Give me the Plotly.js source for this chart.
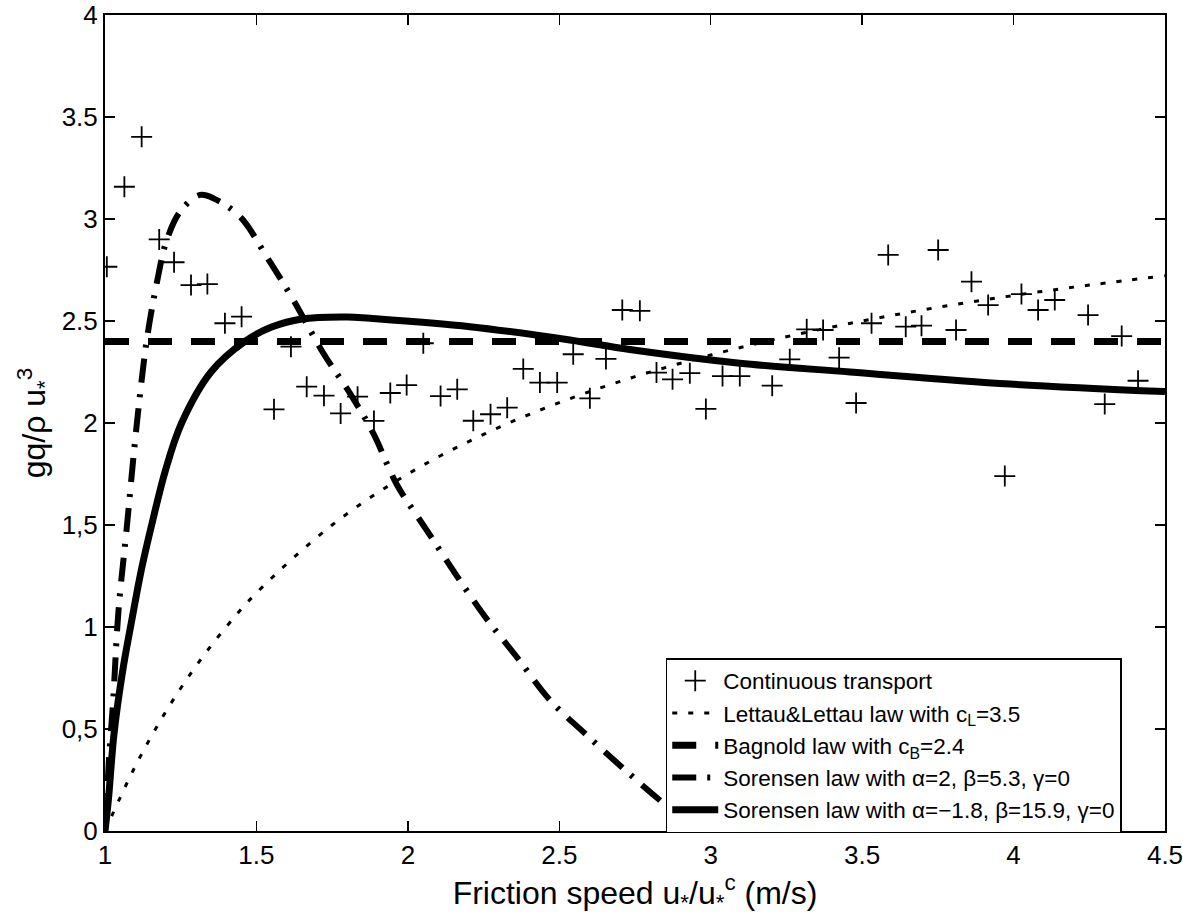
<!DOCTYPE html>
<html>
<head>
<meta charset="utf-8">
<script src="https://cdn.plot.ly/plotly-3.0.1.min.js"></script>
<style>html,body{margin:0;padding:0;background:#fff;}#chart{width:1183px;height:920px;}</style>
</head>
<body>
<div id="chart"></div>
<script>
// Continuous transport measurements
const pointsX = [1.006,1.064,1.121,1.179,1.228,1.284,1.338,1.396,1.451,1.558,1.614,1.666,1.723,1.778,1.834,1.888,1.942,1.996,2.051,2.108,2.163,2.216,2.273,2.328,2.381,2.436,2.493,2.546,2.601,2.654,2.708,2.766,2.821,2.874,2.931,2.984,3.039,3.096,3.203,3.261,3.317,3.371,3.424,3.480,3.531,3.586,3.644,3.696,3.751,3.810,3.861,3.916,3.971,4.026,4.081,4.136,4.246,4.301,4.357,4.411];
const pointsY = [2.766,3.158,3.403,2.900,2.788,2.676,2.681,2.489,2.521,2.067,2.374,2.178,2.134,2.047,2.129,2.010,2.147,2.186,2.391,2.132,2.165,2.011,2.043,2.075,2.265,2.198,2.198,2.337,2.121,2.314,2.554,2.550,2.247,2.214,2.244,2.069,2.230,2.230,2.183,2.312,2.459,2.456,2.320,2.098,2.489,2.824,2.472,2.477,2.848,2.456,2.693,2.578,1.740,2.632,2.554,2.603,2.529,2.093,2.426,2.207];

// Lettau & Lettau law curve
const lettauX = [1,1.1,1.2,1.3,1.4,1.5,1.75,2,2.25,2.5,2.75,3,3.25,3.5,3.75,4,4.25,4.5];
const lettauY = [0,0.318,0.583,0.808,1.0,1.167,1.5,1.75,1.944,2.1,2.227,2.333,2.423,2.5,2.567,2.625,2.676,2.722];

// Bagnold law
const bagnoldX = [1,4.5];
const bagnoldY = [2.4,2.4];

// Sorensen law alpha=2, beta=5.3
const sor1X = [1,1.006,1.013,1.027,1.044,1.072,1.105,1.138,1.171,1.204,1.25,1.314,1.36,1.446,1.534,1.622,1.721,1.809,1.886,1.963,2.062,2.156,2.255,2.359,2.469,2.59,2.717,2.838,2.97];
const sor1Y = [0,0.15,0.35,0.64,1.07,1.49,1.995,2.407,2.686,2.897,3.04,3.118,3.10,3.011,2.815,2.603,2.342,2.145,1.949,1.70,1.475,1.263,1.05,0.854,0.642,0.471,0.299,0.144,0];

// Sorensen law alpha=-1.8, beta=15.9
const sor2X = [1,1.011,1.03,1.06,1.088,1.12,1.154,1.2,1.253,1.35,1.462,1.55,1.65,1.8,1.875,2.205,2.535,2.733,3.096,3.46,3.988,4.5];
const sor2Y = [0,0.15,0.48,0.8,1.03,1.28,1.5,1.77,2.0,2.25,2.4,2.47,2.51,2.52,2.513,2.472,2.407,2.36,2.293,2.25,2.191,2.154];

const xTickVals = [1,1.5,2,2.5,3,3.5,4,4.5];
const xTickText = ['1','1.5','2','2.5','3','3.5','4','4.5'];
const yTickVals = [0,0.5,1,1.5,2,2.5,3,3.5,4];
const yTickText = ['0','0,5','1','1,5','2','2.5','3','3.5','4'];

const FONT = 'Liberation Sans, Arial, Helvetica, sans-serif';

const traces = [
  {x: pointsX, y: pointsY, type: 'scatter', mode: 'markers', name: 'Continuous transport',
   marker: {symbol: 'cross-thin', size: 15, color: '#000', line: {color: '#000', width: 1.8}}},
  {x: lettauX, y: lettauY, type: 'scatter', mode: 'lines', name: 'Lettau&Lettau law with c<sub>L</sub>=3.5',
   line: {color: '#000', width: 3, dash: '5px,11px', shape: 'spline', smoothing: 1}},
  {x: bagnoldX, y: bagnoldY, type: 'scatter', mode: 'lines', name: 'Bagnold law with c<sub>B</sub>=2.4',
   line: {color: '#000', width: 7, dash: '24px,19px'}},
  {x: sor1X, y: sor1Y, type: 'scatter', mode: 'lines', name: 'Sorensen law with α=2, β=5.3, γ=0',
   line: {color: '#000', width: 6, dash: '24px,11px,3px,12px', shape: 'spline', smoothing: 1}},
  {x: sor2X, y: sor2Y, type: 'scatter', mode: 'lines', name: 'Sorensen law with α=−1.8, β=15.9, γ=0',
   line: {color: '#000', width: 7, shape: 'spline', smoothing: 1}}
];

const layout = {
  width: 1183, height: 920,
  margin: {l: 105, r: 18, t: 15, b: 89},
  paper_bgcolor: '#fff', plot_bgcolor: '#fff',
  font: {family: FONT, color: '#000'},
  showlegend: true,
  legend: {x: 0.529, y: 0.212, xanchor: 'left', yanchor: 'top',
           bgcolor: '#fff', bordercolor: '#000', borderwidth: 1.5,
           itemwidth: 46,
           font: {family: FONT, size: 22.5, color: '#000'}, tracegroupgap: 0},
  xaxis: {range: [1, 4.5], tickvals: xTickVals, ticktext: xTickText,
          ticks: 'inside', ticklen: 10, tickwidth: 1.5, tickcolor: '#000',
          showline: true, linecolor: '#000', linewidth: 2, mirror: 'ticks',
          showgrid: false, zeroline: false, ticklabeloverflow: 'allow',
          tickfont: {family: FONT, size: 26, color: '#000'},
          title: {text: 'Friction speed u<sub>*</sub>/u<sub>*</sub><sup>c</sup> (m/s)',
                  font: {family: FONT, size: 32, color: '#000'}, standoff: 6}},
  yaxis: {range: [0, 4], tickvals: yTickVals, ticktext: yTickText,
          ticks: 'inside', ticklen: 10, tickwidth: 1.5, tickcolor: '#000',
          showline: true, linecolor: '#000', linewidth: 2, mirror: 'ticks',
          showgrid: false, zeroline: false,
          tickfont: {family: FONT, size: 26, color: '#000'},
          title: {text: 'gq/ρ u<sub>*</sub><sup>3</sup>',
                  font: {family: FONT, size: 32, color: '#000'}, standoff: 6}}
};

Plotly.newPlot('chart', traces, layout, {displayModeBar: false, staticPlot: true});
</script>
</body>
</html>
